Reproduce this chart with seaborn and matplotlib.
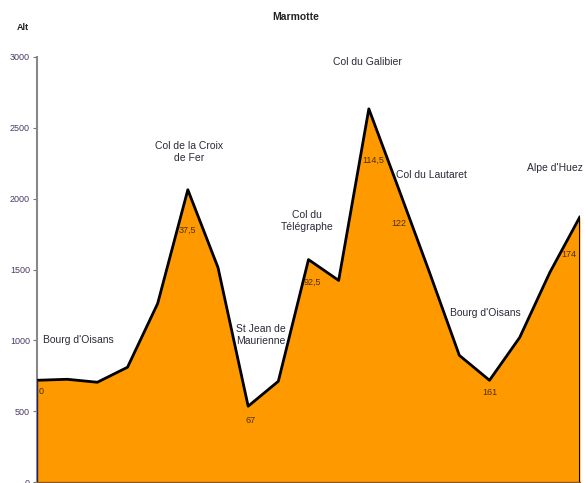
import matplotlib
matplotlib.use("Agg")
import matplotlib.pyplot as plt
import seaborn as sns
import pandas as pd

# ---- data ----
altitudes = [718, 725, 704, 810, 1260, 2063, 1514, 535, 711, 1570,
             1423, 2634, 2063, 1486, 894, 718, 1020, 1479, 1873]
km_labels = ["0", "37,5", "67", "92,5", "114,5", "122", "161", "174"]
km_points = [0, 5, 7, 9, 11, 12, 15, 18]
place_names = ["Bourg d'Oisans", "Col de la Croix\nde Fer", "St Jean de\nMaurienne",
               "Col du\nTélégraphe", "Col du Galibier", "Col du Lautaret",
               "Bourg d'Oisans", "Alpe d'Huez"]
y_ticks = [0, 500, 1000, 1500, 2000, 2500, 3000]

# ---- layout (not data) ----
km_offsets = [(4, -11), (0, -41), (2, -14), (4, -23), (4, -51), (0, -34), (0, -12), (-11, -38)]
place_pos = [(1.36, 1002), (5.04, 2329), (7.42, 1038), (8.95, 1842),
             (10.94, 2965), (13.09, 2167), (14.85, 1193), (17.16, 2216)]

df = pd.DataFrame({"pt": range(len(altitudes)), "alt": altitudes})

sns.set_style("white")
plt.rcParams["font.family"] = ["Liberation Sans", "DejaVu Sans"]

fig = plt.figure(figsize=(5.85, 4.83), dpi=100)
ax = fig.add_axes([37 / 585, 1 / 483, 543 / 585, 425 / 483])

ax.fill_between(df["pt"], 0, df["alt"], color="#FF9900", linewidth=0, zorder=1)
sns.lineplot(data=df, x="pt", y="alt", ax=ax, color="black", linewidth=2.0, zorder=3)
last = df["pt"].iloc[-1]
ax.plot([last, last], [0, df["alt"].iloc[-1]], color="black", linewidth=1.5, zorder=3)
ax.plot([0, 0], [0, df["alt"].iloc[0]], color="#22226a", linewidth=1.0, zorder=3)

ax.set_xlim(0, len(altitudes) - 1)
ax.set_ylim(0, 3000)
ax.set_yticks(y_ticks)
ax.set_yticklabels([str(t) for t in y_ticks], fontsize=6.5, color="#4a3a66")
ax.set_xticks([])
ax.set_xlabel("")
ax.set_ylabel("")
ax.tick_params(axis="y", direction="out", length=3, width=0.8, color="#777777", pad=2, left=True)

for s in ["top", "right"]:
    ax.spines[s].set_visible(False)
ax.spines["left"].set_color("#888888")
ax.spines["left"].set_linewidth(1.5)
ax.spines["bottom"].set_color("#8a5a20")
ax.spines["bottom"].set_linewidth(1.0)

for lab, i, (dx, dy) in zip(km_labels, km_points, km_offsets):
    ax.annotate(lab, xy=(i, altitudes[i]), xytext=(dx, dy), textcoords="offset pixels",
                ha="center", va="center", fontsize=6.5, color="#4a3000", zorder=4)

for name, (px, py) in zip(place_names, place_pos):
    ax.text(px, py, name, ha="center", va="center", fontsize=7.5, color="#2a2a3a",
            linespacing=1.3, zorder=4)

fig.text(296 / 585, 1 - 17 / 483, "Marmotte", ha="center", va="center",
         fontsize=7.5, fontweight="bold", color="#222222")
fig.text(23 / 585, 1 - 28 / 483, "Alt", ha="center", va="center",
         fontsize=6.5, fontweight="bold", color="#222222")

fig.savefig("out.png", dpi=100)
